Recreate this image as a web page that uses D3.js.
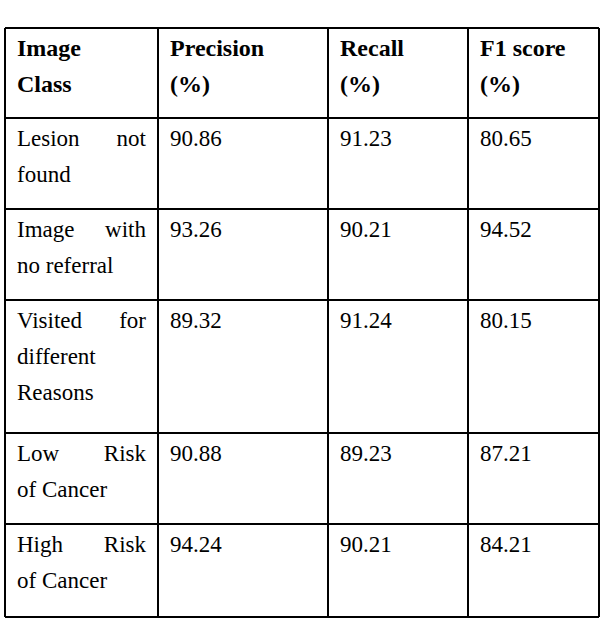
<!DOCTYPE html><html><head><meta charset="utf-8"><script src="https://cdn.jsdelivr.net/npm/d3@7"></script>
<style>body{margin:0;background:#fff}</style></head><body><script>
const headers=[["Image","Class"],["Precision","(%)"],["Recall","(%)"],["F1 score","(%)"]];
const classes=[["Lesion not","found"],["Image with","no referral"],["Visited for","different","Reasons"],["Low Risk","of Cancer"],["High Risk","of Cancer"]];
const precision=["90.86","93.26","89.32","90.88","94.24"];
const recall=["91.23","90.21","91.24","89.23","90.21"];
const f1=["80.65","94.52","80.15","87.21","84.21"];
const colX=[5,158,328,468,599];
const rowY=[28,118,209,300,433,524,617];
const svg=d3.select("body").append("svg").attr("width",602).attr("height",620);
const g=svg.append("g").attr("font-family","'Liberation Serif','Times New Roman','DejaVu Serif',serif").attr("font-size",23).attr("fill","#000");
colX.forEach(x=>g.append("line").attr("x1",x).attr("x2",x).attr("y1",rowY[0]).attr("y2",rowY[6]).attr("stroke","#000").attr("stroke-width",2));
rowY.forEach(y=>g.append("line").attr("x1",colX[0]).attr("x2",colX[4]).attr("y1",y).attr("y2",y).attr("stroke","#000").attr("stroke-width",2));
const pad=12,lh=36,base=28;
headers.forEach((h,c)=>h.forEach((t,i)=>g.append("text").attr("x",colX[c]+pad).attr("y",rowY[0]+base+i*lh).attr("font-weight","bold").attr("font-size",24).text(t)));
classes.forEach((lines,r)=>{
  const top=rowY[r+1];
  lines.forEach((t,i)=>{
    const y=top+base+i*lh;
    const words=t.split(" ");
    if(i===0&&words.length>1){
      g.append("text").attr("x",colX[0]+pad).attr("y",y).text(words[0]);
      g.append("text").attr("x",colX[1]-pad).attr("y",y).attr("text-anchor","end").text(words.slice(1).join(" "));
    } else g.append("text").attr("x",colX[0]+pad).attr("y",y).text(t);
  });
  [precision,recall,f1].forEach((arr,c)=>g.append("text").attr("x",colX[c+1]+pad).attr("y",top+base).text(arr[r]));
});
</script></body></html>
